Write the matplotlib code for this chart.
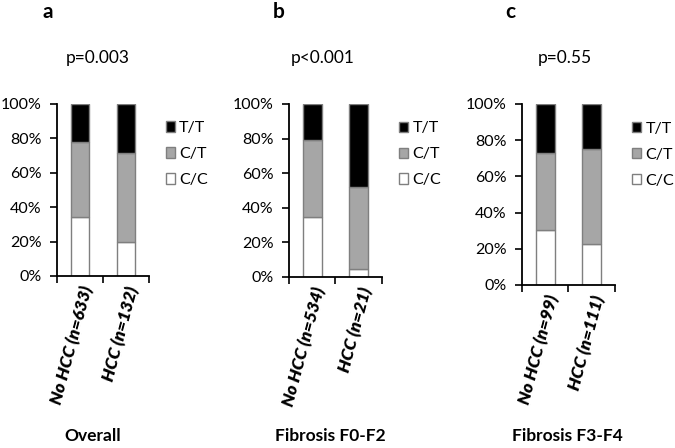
import matplotlib
matplotlib.use("Agg")
import matplotlib.pyplot as plt
from matplotlib.patches import Patch

plt.rcParams['font.family'] = ['Lato', 'DejaVu Sans']

# data (fractions)
panel_letters = ["a", "b", "c"]
p_values = ["p=0.003", "p<0.001", "p=0.55"]
panel_titles = ["Overall", "Fibrosis F0-F2", "Fibrosis F3-F4"]
categories = [
    ["No HCC (n=633)", "HCC (n=132)"],
    ["No HCC (n=534)", "HCC (n=21)"],
    ["No HCC (n=99)", "HCC (n=111)"],
]
cc = [[0.34, 0.195], [0.345, 0.048], [0.303, 0.225]]
ct = [[0.44, 0.52], [0.445, 0.472], [0.427, 0.525]]
tt = [[0.22, 0.285], [0.21, 0.48], [0.27, 0.25]]
genotypes = ["C/C", "C/T", "T/T"]
colors = ["white", "#a6a6a6", "black"]

fig = plt.figure(figsize=(6.75, 4.48), dpi=100)

# axes rectangles [left, bottom, width, height]
rects = [
    [0.0844, 0.384, 0.1363, 0.384],
    [0.428, 0.382, 0.138, 0.386],
    [0.773, 0.364, 0.138, 0.404],
]
letter_xy = [(48, 12), (279, 12), (510, 12)]
p_xy = [(97.5, 58), (323, 58), (565, 58)]
title_x = [0.138, 0.489, 0.840]

for i in range(3):
    ax = fig.add_axes(rects[i])
    x = [0, 1]
    bottom = [0, 0]
    for vals, col, lab in zip([cc[i], ct[i], tt[i]], colors, genotypes):
        ax.bar(x, vals, width=0.41, bottom=bottom, color=col,
               edgecolor="#7f7f7f", linewidth=1.0, label=lab)
        bottom = [b + v for b, v in zip(bottom, vals)]

    ax.set_xlim(-0.5, 1.5)
    ax.set_ylim(0, 1)
    ax.set_yticks([0, 0.2, 0.4, 0.6, 0.8, 1.0])
    ax.set_yticklabels(["0%", "20%", "40%", "60%", "80%", "100%"], fontsize=11.5)
    ax.set_xticks([-0.5, 0.5, 1.5])
    ax.set_xticklabels([])
    ax.set_xticks([0, 1], minor=True)
    ax.set_xticklabels(categories[i], minor=True, rotation=75, ha="right",
                       rotation_mode="anchor", fontsize=12.5,
                       fontweight="heavy", fontstyle="italic")
    ax.tick_params(axis="x", which="minor", length=0, pad=6)
    ax.tick_params(axis="x", which="major", length=5, direction="out", width=1.2)
    ax.tick_params(axis="y", length=5, direction="out", width=1.2, pad=6)
    for s in ["top", "right"]:
        ax.spines[s].set_visible(False)
    for s in ["left", "bottom"]:
        ax.spines[s].set_linewidth(1.3)

    handles = [Patch(facecolor=c, edgecolor="#7f7f7f", label=g)
               for c, g in zip(colors[::-1], genotypes[::-1])]
    ax.legend(handles=handles, loc="upper left", bbox_to_anchor=(1.18, 0.9),
              frameon=False, fontsize=11.5, handlelength=0.6, handleheight=0.6,
              handletextpad=0.25, labelspacing=0.75, borderaxespad=0, borderpad=0)

    fig.text(letter_xy[i][0] / 675, 1 - letter_xy[i][1] / 448, panel_letters[i],
             fontsize=15, fontweight="bold", ha="center", va="center")
    fig.text(p_xy[i][0] / 675, 1 - p_xy[i][1] / 448, p_values[i], fontsize=12.5,
             ha="center", va="center")
    fig.text(title_x[i], 0.027, panel_titles[i], fontsize=12.5,
             fontweight="bold", ha="center", va="center")

fig.savefig("out.png", dpi=100)
